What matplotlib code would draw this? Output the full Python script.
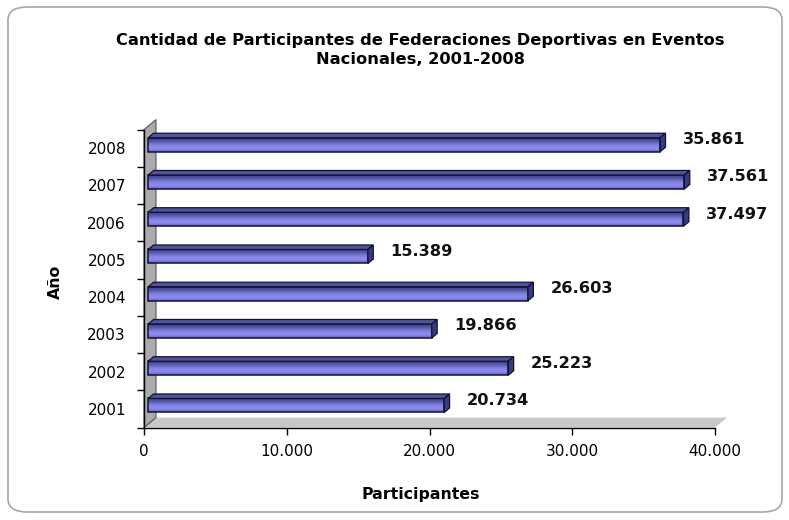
import matplotlib.pyplot as plt
import matplotlib.patches as mpatches
from matplotlib.colors import LinearSegmentedColormap
import numpy as np

plt.rcParams['font.family'] = ['DejaVu Sans']

# data
years = ["2001", "2002", "2003", "2004", "2005", "2006", "2007", "2008"]
participants = [20734, 25223, 19866, 26603, 15389, 37497, 37561, 35861]
x_ticks = [0, 10000, 20000, 30000, 40000]
x_tick_labels = ["0", "10.000", "20.000", "30.000", "40.000"]

title = "Cantidad de Participantes de Federaciones Deportivas en Eventos\nNacionales, 2001-2008"

W, H = 789, 520
fig = plt.figure(figsize=(W / 100, H / 100), dpi=100)

# rounded outer frame
frame = mpatches.FancyBboxPatch((8 / W, 8 / H), 774 / W, 505 / H,
                                boxstyle="round,pad=0,rounding_size=0.025",
                                transform=fig.transFigure, fc="none", ec="#a6a6a6", lw=1.2,
                                zorder=-1)
fig.patches.append(frame)

# axes (front plane of the 3d box)
ax_l, ax_r, ax_t, ax_b = 144, 715, 129.6, 427.6
ax = fig.add_axes([ax_l / W, 1 - ax_b / H, (ax_r - ax_l) / W, (ax_b - ax_t) / H])
xmax = 40000
ylo, yhi = -0.5, len(years) - 0.5
PX = xmax / (ax_r - ax_l)          # data units per pixel
PY = (yhi - ylo) / (ax_b - ax_t)

# depth of the box and of the bars (pixels)
DX, DY = 12, 10
ox, oy = 0.35 * DX * PX, 0.35 * DY * PY
ddx, ddy = 0.45 * DX * PX, 0.45 * DY * PY
bar_h = 14 * PY

# wall and floor
wall = mpatches.Polygon([(0, ylo), (0, yhi), (DX * PX, yhi + DY * PY), (DX * PX, ylo + DY * PY)],
                        closed=True, fc="#ababab", ec="#555555", lw=0.8, clip_on=False, zorder=1)
floor = mpatches.Polygon([(0, ylo), (xmax, ylo), (xmax + DX * PX, ylo + DY * PY), (DX * PX, ylo + DY * PY)],
                         closed=True, fc="#c8c8c8", ec="none", clip_on=False, zorder=1)
ax.add_patch(floor)
ax.add_patch(wall)

cmap = LinearSegmentedColormap.from_list("bar", ["#6464c4", "#8e8ef0", "#8282e0", "#5a5ab0", "#3a3a80"])
grad = np.linspace(0, 1, 64).reshape(-1, 1)

for i, v in enumerate(participants):
    x0, x1 = ox, v + ox
    yc = i + oy
    yb, yt = yc - bar_h / 2, yc + bar_h / 2
    rect = mpatches.Rectangle((x0, yb), x1 - x0, bar_h, fc="none", ec="#121230", lw=1.1, zorder=4)
    ax.add_patch(rect)
    im = ax.imshow(grad, extent=[x0, x1, yt, yb], aspect="auto", cmap=cmap, zorder=3,
                   interpolation="bilinear")
    im.set_clip_path(rect)
    top = mpatches.Polygon([(x0, yt), (x1, yt), (x1 + ddx, yt + ddy), (x0 + ddx, yt + ddy)],
                           closed=True, fc="#52529e", ec="#121230", lw=0.9, zorder=4)
    side = mpatches.Polygon([(x1, yb), (x1, yt), (x1 + ddx, yt + ddy), (x1 + ddx, yb + ddy)],
                            closed=True, fc="#3a3a80", ec="#121230", lw=0.9, zorder=4)
    ax.add_patch(top)
    ax.add_patch(side)
    ax.text(x1 + ddx + 17 * PX, yc + 5 * PY, f"{v:,}".replace(",", "."),
            fontsize=11.7, fontweight="bold", ha="left", va="center", color="#111111")

ax.set_xlim(0, xmax)
ax.set_ylim(ylo, yhi)
ax.set_facecolor("none")
for s in ["top", "right"]:
    ax.spines[s].set_visible(False)
for s in ["left", "bottom"]:
    ax.spines[s].set_color("black")
    ax.spines[s].set_linewidth(1.0)
    ax.spines[s].set_zorder(5)

ax.set_xticks(x_ticks)
ax.set_xticklabels(x_tick_labels, fontsize=11)
ax.tick_params(axis="x", direction="out", length=5, width=1, pad=7)
ax.set_yticks(range(len(years)))
ax.set_yticklabels(years, fontsize=11)
ax.tick_params(axis="y", length=0, pad=13)
ax.set_yticks(np.arange(len(years) + 1) - 0.5, minor=True)
ax.tick_params(axis="y", which="minor", direction="out", length=5, width=1)

fig.text(420 / W, 1 - 50 / H, title, ha="center", va="center", fontsize=11.7, fontweight="bold",
         linespacing=1.25)
fig.text(421 / W, 1 - 494 / H, "Participantes", ha="center", va="center", fontsize=11.3,
         fontweight="bold")
fig.text(55 / W, 1 - 282 / H, "Año", ha="center", va="center", fontsize=11.3, fontweight="bold",
         rotation=90)

fig.savefig("out.png", dpi=100)
